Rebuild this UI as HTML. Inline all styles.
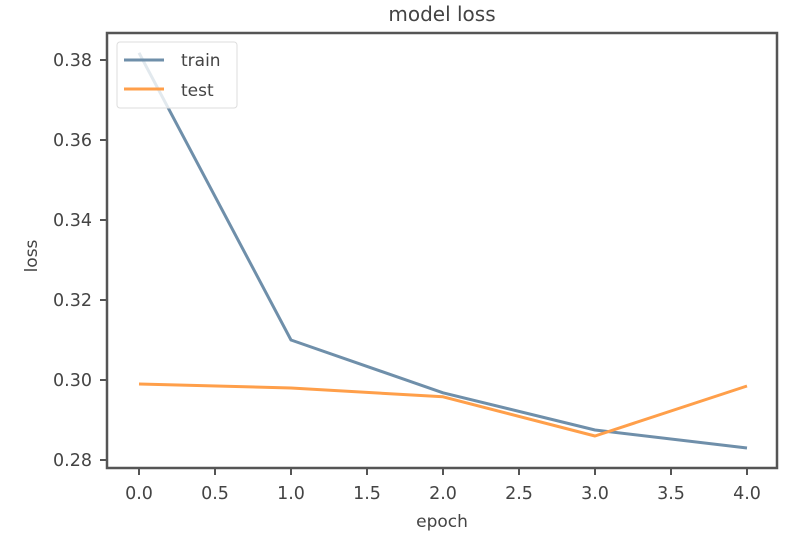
<!DOCTYPE html>
<html><head><meta charset="utf-8"><style>
body{margin:0;background:#fff;}
svg{display:block;font-family:"DejaVu Sans","Liberation Sans",sans-serif;}
</style></head><body>
<svg id="chart" width="812" height="548">
<text x="442" y="21" text-anchor="middle" font-size="20" fill="#444">model loss</text>
<text x="442" y="527" text-anchor="middle" font-size="17" fill="#444">epoch</text>
<text transform="translate(37,256) rotate(-90)" text-anchor="middle" font-size="17" fill="#444">loss</text>
<g id="marks"></g>
<rect x="107" y="33" width="670" height="435" fill="none" stroke="#555" stroke-width="2.5"/>
<g id="axes"></g>
<g>
<rect x="117" y="42" width="120" height="66" rx="3" fill="#fff" fill-opacity="0.8" stroke="#ddd"/>
<line x1="124" y1="60" x2="164" y2="60" stroke="#6f8faa" stroke-width="3"/>
<text x="181" y="66" font-size="17" fill="#444">train</text>
<line x1="124" y1="89" x2="164" y2="89" stroke="#ff9f4a" stroke-width="3"/>
<text x="181" y="96" font-size="17" fill="#444">test</text>
</g>
</svg>
<script>
const epochs=[0,1,2,3,4];
const trainLoss=[0.3818,0.310,0.2968,0.2875,0.283];
const testLoss=[0.299,0.298,0.2958,0.286,0.2985];
const xTicks=[0,0.5,1,1.5,2,2.5,3,3.5,4];
const xTickLabels=["0.0","0.5","1.0","1.5","2.0","2.5","3.0","3.5","4.0"];
const yTicks=[0.28,0.30,0.32,0.34,0.36,0.38];
const yTickLabels=["0.28","0.30","0.32","0.34","0.36","0.38"];
const NS="http://www.w3.org/2000/svg";
function xs(v){return 139+v*152;}
function ys(v){return 460-(v-0.28)*4000;}
const marks=document.getElementById('marks'),axes=document.getElementById('axes');
function mk(tag,attrs,parent){const e=document.createElementNS(NS,tag);for(const k in attrs)e.setAttribute(k,attrs[k]);parent.appendChild(e);return e;}
function series(vals,color,name){
 const p=mk('polyline',{points:vals.map((v,i)=>xs(epochs[i])+','+ys(v)).join(' '),fill:'none',stroke:color,'stroke-width':3,'stroke-linejoin':'round'},marks);
 
 
}
series(trainLoss,'#6f8faa','train-line');
series(testLoss,'#ff9f4a','test-line');
xTicks.forEach((t,i)=>{
 const l=mk('line',{x1:xs(t),x2:xs(t),y1:468,y2:475,stroke:'#555','stroke-width':2},axes);
 
 
 const tx=mk('text',{x:xs(t),y:499,'text-anchor':'middle','font-size':17.5,fill:'#444'},axes);
 tx.textContent=xTickLabels[i];
 
 
});
yTicks.forEach((t,i)=>{
 const l=mk('line',{x1:100,x2:107,y1:ys(t),y2:ys(t),stroke:'#555','stroke-width':2},axes);
 
 
 const tx=mk('text',{x:92,y:ys(t)+6,'text-anchor':'end','font-size':17.5,fill:'#444'},axes);
 tx.textContent=yTickLabels[i];
 
 
});
</script>
</body></html>
